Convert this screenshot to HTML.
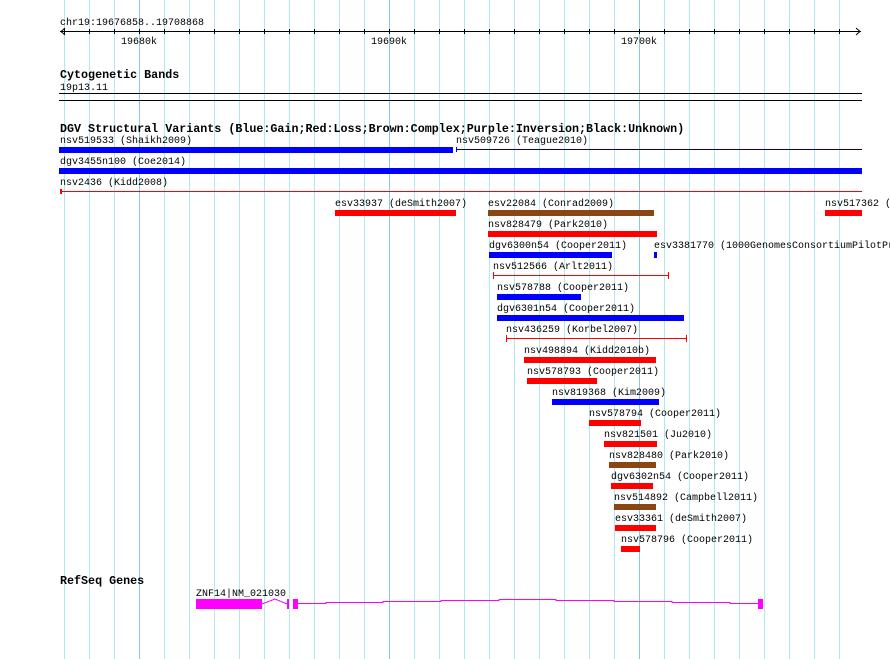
<!DOCTYPE html>
<html><head><meta charset="utf-8"><style>
html,body{margin:0;padding:0;background:#fff;}
svg{display:block;}
text{font-family:"Liberation Mono","DejaVu Sans Mono",monospace;font-size:10px;fill:#000;}
.b{font-weight:bold;font-size:11.7px;}
</style></head><body>
<svg width="890" height="659" viewBox="0 0 890 659" shape-rendering="crispEdges">
<g fill="#b0e8f0">
<rect x="64" y="0" width="1" height="659"/><rect x="89" y="0" width="1" height="659"/><rect x="114" y="0" width="1" height="659"/>
<rect x="164" y="0" width="1" height="659"/><rect x="189" y="0" width="1" height="659"/><rect x="214" y="0" width="1" height="659"/>
<rect x="239" y="0" width="1" height="659"/><rect x="264" y="0" width="1" height="659"/><rect x="289" y="0" width="1" height="659"/>
<rect x="314" y="0" width="1" height="659"/><rect x="339" y="0" width="1" height="659"/><rect x="364" y="0" width="1" height="659"/>
<rect x="414" y="0" width="1" height="659"/><rect x="439" y="0" width="1" height="659"/><rect x="464" y="0" width="1" height="659"/>
<rect x="489" y="0" width="1" height="659"/><rect x="514" y="0" width="1" height="659"/><rect x="539" y="0" width="1" height="659"/>
<rect x="564" y="0" width="1" height="659"/><rect x="589" y="0" width="1" height="659"/><rect x="614" y="0" width="1" height="659"/>
<rect x="664" y="0" width="1" height="659"/><rect x="689" y="0" width="1" height="659"/><rect x="714" y="0" width="1" height="659"/>
<rect x="739" y="0" width="1" height="659"/><rect x="764" y="0" width="1" height="659"/><rect x="789" y="0" width="1" height="659"/>
<rect x="814" y="0" width="1" height="659"/><rect x="839" y="0" width="1" height="659"/>
</g>
<g fill="#88c8e8">
<rect x="139" y="0" width="1" height="659"/><rect x="389" y="0" width="1" height="659"/><rect x="639" y="0" width="1" height="659"/>
</g>
<!-- axis -->
<text x="60" y="25">chr19:19676858..19708868</text>
<rect x="60" y="31" width="801" height="1" fill="#000"/>
<polyline points="65,28 61,31.5 65,35" fill="none" stroke="#000" stroke-width="1" shape-rendering="auto"/>
<polyline points="856,28 860,31.5 856,35" fill="none" stroke="#000" stroke-width="1" shape-rendering="auto"/>
<g fill="#000">
<rect x="64" y="29" width="1" height="5"/><rect x="89" y="29" width="1" height="5"/><rect x="114" y="29" width="1" height="5"/><rect x="139" y="29" width="1" height="5"/>
<rect x="164" y="29" width="1" height="5"/><rect x="189" y="29" width="1" height="5"/><rect x="214" y="29" width="1" height="5"/><rect x="239" y="29" width="1" height="5"/>
<rect x="264" y="29" width="1" height="5"/><rect x="289" y="29" width="1" height="5"/><rect x="314" y="29" width="1" height="5"/><rect x="339" y="29" width="1" height="5"/>
<rect x="364" y="29" width="1" height="5"/><rect x="389" y="29" width="1" height="5"/><rect x="414" y="29" width="1" height="5"/><rect x="439" y="29" width="1" height="5"/>
<rect x="464" y="29" width="1" height="5"/><rect x="489" y="29" width="1" height="5"/><rect x="514" y="29" width="1" height="5"/><rect x="539" y="29" width="1" height="5"/>
<rect x="564" y="29" width="1" height="5"/><rect x="589" y="29" width="1" height="5"/><rect x="614" y="29" width="1" height="5"/><rect x="639" y="29" width="1" height="5"/>
<rect x="664" y="29" width="1" height="5"/><rect x="689" y="29" width="1" height="5"/><rect x="714" y="29" width="1" height="5"/><rect x="739" y="29" width="1" height="5"/>
<rect x="764" y="29" width="1" height="5"/><rect x="789" y="29" width="1" height="5"/><rect x="814" y="29" width="1" height="5"/><rect x="839" y="29" width="1" height="5"/>
</g>
<text x="139" y="44" text-anchor="middle">19680k</text>
<text x="389" y="44" text-anchor="middle">19690k</text>
<text x="639" y="44" text-anchor="middle">19700k</text>

<text class="b" x="60" y="78">Cytogenetic Bands</text>
<text x="60" y="90">19p13.11</text>
<rect x="59" y="93" width="803" height="1" fill="#000"/>
<rect x="59" y="100" width="803" height="1" fill="#000"/>

<text class="b" x="60" y="132">DGV Structural Variants (Blue:Gain;Red:Loss;Brown:Complex;Purple:Inversion;Black:Unknown)</text>

<text x="60" y="143">nsv519533 (Shaikh2009)</text>
<rect x="59" y="147" width="394" height="6" fill="#0000ff"/>
<text x="456" y="143">nsv509726 (Teague2010)</text>
<rect x="456" y="149" width="406" height="1" fill="#000080"/>
<rect x="456" y="147" width="1" height="5" fill="#0000ff"/>

<text x="60" y="164">dgv3455n100 (Coe2014)</text>
<rect x="59" y="168" width="803" height="6" fill="#0000ff"/>

<text x="60" y="185">nsv2436 (Kidd2008)</text>
<rect x="60" y="191" width="802" height="1" fill="#ff0000"/>
<rect x="60" y="189" width="2" height="5" fill="#ff0000"/>

<text x="335" y="206">esv33937 (deSmith2007)</text>
<rect x="335" y="210" width="121" height="6" fill="#ff0000"/>
<text x="488" y="206">esv22084 (Conrad2009)</text>
<rect x="488" y="210" width="166" height="6" fill="#8b4513"/>
<text x="825" y="206">nsv517362 (</text>
<rect x="825" y="210" width="37" height="6" fill="#ff0000"/>

<text x="488" y="227">nsv828479 (Park2010)</text>
<rect x="488" y="231" width="169" height="6" fill="#ff0000"/>

<text x="489" y="248">dgv6300n54 (Cooper2011)</text>
<rect x="489" y="252" width="123" height="6" fill="#0000ff"/>
<text x="654" y="248">esv3381770 (1000GenomesConsortiumPilotPr</text>
<rect x="654" y="252" width="3" height="6" fill="#0000ff"/>

<text x="493" y="269">nsv512566 (Arlt2011)</text>
<rect x="493" y="275" width="176" height="1" fill="#ff0000"/>
<rect x="493" y="272" width="1" height="7" fill="#ff0000"/>
<rect x="668" y="272" width="1" height="7" fill="#ff0000"/>

<text x="497" y="290">nsv578788 (Cooper2011)</text>
<rect x="497" y="294" width="84" height="6" fill="#0000ff"/>

<text x="497" y="311">dgv6301n54 (Cooper2011)</text>
<rect x="497" y="315" width="187" height="6" fill="#0000ff"/>

<text x="506" y="332">nsv436259 (Korbel2007)</text>
<rect x="506" y="338" width="181" height="1" fill="#ff0000"/>
<rect x="506" y="335" width="1" height="7" fill="#ff0000"/>
<rect x="686" y="335" width="1" height="7" fill="#ff0000"/>

<text x="524" y="353">nsv498894 (Kidd2010b)</text>
<rect x="524" y="357" width="132" height="6" fill="#ff0000"/>

<text x="527" y="374">nsv578793 (Cooper2011)</text>
<rect x="527" y="378" width="70" height="6" fill="#ff0000"/>

<text x="552" y="395">nsv819368 (Kim2009)</text>
<rect x="552" y="399" width="107" height="6" fill="#0000ff"/>

<text x="589" y="416">nsv578794 (Cooper2011)</text>
<rect x="589" y="420" width="52" height="6" fill="#ff0000"/>

<text x="604" y="437">nsv821501 (Ju2010)</text>
<rect x="604" y="441" width="53" height="6" fill="#ff0000"/>

<text x="609" y="458">nsv828480 (Park2010)</text>
<rect x="609" y="462" width="47" height="6" fill="#8b4513"/>

<text x="611" y="479">dgv6302n54 (Cooper2011)</text>
<rect x="611" y="483" width="42" height="6" fill="#ff0000"/>

<text x="614" y="500">nsv514892 (Campbell2011)</text>
<rect x="614" y="504" width="42" height="6" fill="#8b4513"/>

<text x="615" y="521">esv33361 (deSmith2007)</text>
<rect x="615" y="525" width="41" height="6" fill="#ff0000"/>

<text x="621" y="542">nsv578796 (Cooper2011)</text>
<rect x="621" y="546" width="19" height="6" fill="#ff0000"/>

<text class="b" x="60" y="584">RefSeq Genes</text>
<text x="196" y="596">ZNF14|NM_021030</text>
<rect x="196" y="599" width="66" height="10" fill="#ff00ff"/>
<polyline points="262,604 275,599 287,604" fill="none" stroke="#ff00ff" stroke-width="1"/>
<rect x="287" y="599" width="2" height="10" fill="#ff00ff"/>
<rect x="293" y="599" width="5" height="10" fill="#ff00ff"/>
<polyline points="298,603.5 326,603.5 326,602.5 383,602.5 383,601.5 441,601.5 441,600.5 499,600.5 499,599.5 556,599.5 556,600.5 614,600.5 614,601.5 672,601.5 672,602.5 730,602.5 730,603.5 758,603.5" fill="none" stroke="#ff00ff" stroke-width="1"/>
<rect x="758" y="599" width="5" height="10" fill="#ff00ff"/>
</svg>
</body></html>
